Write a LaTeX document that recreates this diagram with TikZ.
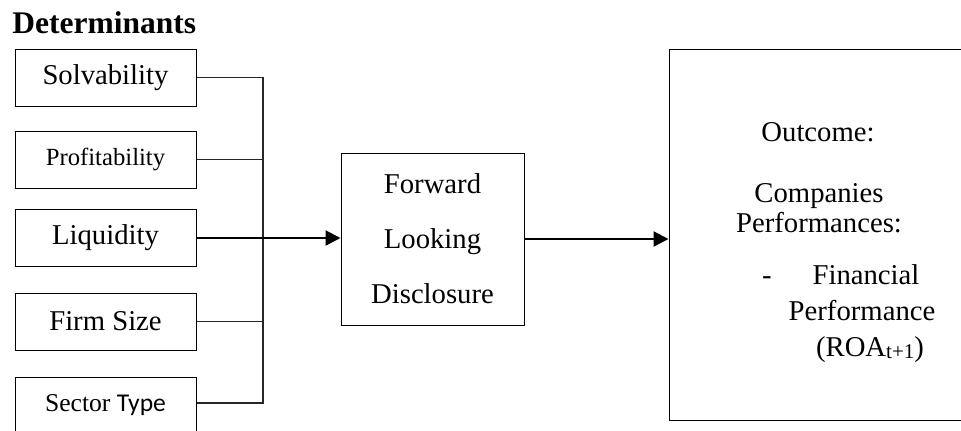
\documentclass[tikz,border=0pt]{standalone}
\usepackage{fontspec}
\setmainfont{Liberation Serif}
\newfontfamily\carlito{Carlito}
\usetikzlibrary{arrows.meta}

\begin{document}
\begin{tikzpicture}[x=0.5pt, y=-0.5pt]
		\tikzstyle{Box} = [rectangle, minimum width=90.5pt, minimum height=28.5pt, text centered, draw=black, line width=0.5pt, inner sep=0pt, font=\fontsize{14.35}{17}\selectfont]
		\tikzstyle{line} = [draw=black!85, line width=0.6pt]
		\tikzstyle{arrow} = [line width=1.1pt, -{Triangle[length=7.5pt, width=7.5pt]}]
		\tikzstyle{Text} = [inner sep=0pt, anchor=base, font=\fontsize{14.35}{17}\selectfont]
		
		\useasboundingbox (0,0) rectangle (961,430);
		\clip (0,0) rectangle (961,430);
		
		\node (title) [anchor=base west, inner sep=0pt, font=\bfseries\fontsize{15.75}{18}\selectfont] at (12,33) {Determinants};
		
		\node (solv) [Box] at (105.5,77.5) {Solvability};
		\node (prof) [Box, font=\fontsize{12.35}{15}\selectfont] at (105.5,159.5) {Profitability};
		\node (liq) [Box] at (105.5,238) {Liquidity};
		\node (size) [Box] at (105.5,321.5) {Firm Size};
		\node (sect) [Box, font=\fontsize{12.8}{15}\selectfont] at (105.5,405.5) {Sector {\carlito Type}};
		
		\coordinate (top) at (263,77.5);
		\coordinate (bot) at (263,403);
		\draw [line] (solv.east) -- (top) -- (bot) -- (bot -| sect.east);
		\draw [line] (prof.east) -- (prof.east -| top);
		\draw [line] (size.east) -- (size.east -| top);
		
		\node (fld) [Box, minimum width=91.5pt, minimum height=86pt, align=center, font=\fontsize{14.35}{27.5}\selectfont] at (432.5,239) {Forward\\Looking\\Disclosure};
		
		\node (outcome) [Box, minimum width=165.5pt, minimum height=185.5pt] at (834.5,234.5) {};
		
		\draw [arrow] (liq.east) -- (liq.east -| fld.west);
		\draw [arrow] (fld.east) -- (fld.east -| outcome.west);
		
		\node (out1) [Text] at (818,141) {Outcome:};
		\node (out2) [Text] at (819,202) {Companies};
		\node (out3) [Text] at (819,232) {Performances:};
		\node (dash) [Text] at (767,284) {-};
		\node (out4) [Text] at (866,284) {Financial};
		\node (out5) [Text] at (862,320) {Performance};
		\node (out6) [Text] at (870,356) {(ROA\raisebox{-1pt}{\fontsize{10.5}{12}\selectfont t+1})};
\end{tikzpicture}
\end{document}
